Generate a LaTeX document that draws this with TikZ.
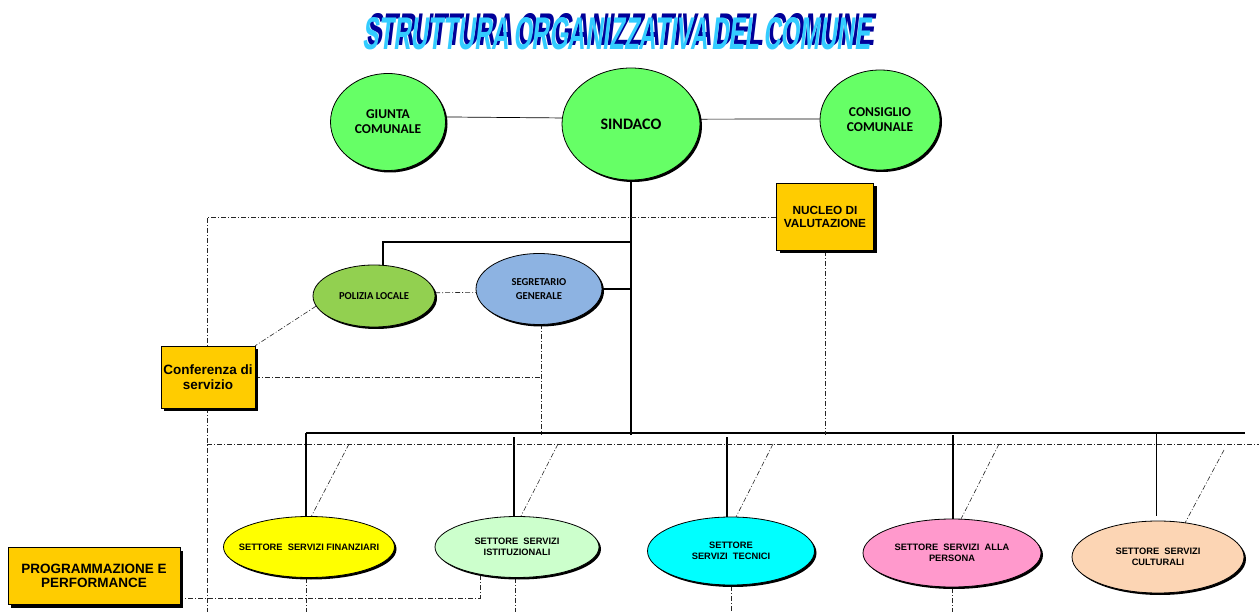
\documentclass[tikz,border=0pt]{standalone}
\usepackage{fontspec}
\setmainfont{Liberation Sans}
\newfontfamily\calib{Carlito}
\usetikzlibrary{shapes.geometric,shadows,backgrounds}
\definecolor{topgreen}{HTML}{66FF66}
\definecolor{polgreen}{HTML}{92D050}
\definecolor{segblue}{HTML}{8DB3E2}
\definecolor{gold}{HTML}{FFCC00}
\definecolor{finyel}{HTML}{FFFF00}
\definecolor{istgreen}{HTML}{CCFFCC}
\definecolor{teccyan}{HTML}{00FFFF}
\definecolor{perpink}{HTML}{FF99CC}
\definecolor{culpeach}{HTML}{FCD5B4}
\definecolor{ttlblue}{HTML}{33CCFF}
\definecolor{ttlnavy}{HTML}{000099}
\newcommand\ttltext{\resizebox{508pt}{32pt}{\bfseries STRUTTURA\,ORGANIZZATIVA\,DEL\,COMUNE}}
\begin{document}
\begin{tikzpicture}[x=1pt,y=-1pt,
  oval/.style={ellipse,draw=black,line width=0.8pt,inner xsep=-15pt,inner ysep=0pt,align=center,
    drop shadow={opacity=1,shadow xshift=2pt,shadow yshift=-2pt,fill=black}},
  gbox/.style={rectangle,draw=black,line width=0.6pt,fill=gold,inner sep=0pt,align=center,
    drop shadow={opacity=1,shadow xshift=3pt,shadow yshift=-3pt,fill=black}},
  thickline/.style={line width=2pt,black},
  thinline/.style={line width=0.7pt,black},
  dd/.style={line width=0.6pt,black!85,dash pattern=on 5pt off 2pt on 1pt off 2pt},
  calfont/.style={font=\calib\bfseries\fontsize{13.5}{15}\selectfont},
  setfont/.style={font=\bfseries\fontsize{9.3}{11}\selectfont}
]
\useasboundingbox (0,0) rectangle (1259,612);

% title: dark extrusion behind, light blue face
\node[anchor=south west,inner sep=0pt,xslant=0.12,text=ttlnavy] (titleshadow) at (366,46) {\ttltext};
\node[anchor=south west,inner sep=0pt,xslant=0.12,text=ttlblue] (title) at (362,50) {\ttltext};

% top circles
\node[oval,fill=topgreen,minimum width=115pt,minimum height=97pt,calfont] (giunta) at (388,122) {GIUNTA\\COMUNALE};
\node[oval,fill=topgreen,minimum width=138pt,minimum height=112pt,font=\calib\bfseries\fontsize{16}{18}\selectfont] (sindaco) at (631,124) {SINDACO};
\node[oval,fill=topgreen,minimum width=120pt,minimum height=100pt,calfont] (consiglio) at (880,120) {CONSIGLIO\\COMUNALE};

% boxes
\node[gbox,minimum width=97pt,minimum height=67pt,font=\bfseries\fontsize{11.8}{13.3}\selectfont] (nucleo) at (825,217) {NUCLEO DI\\VALUTAZIONE};
\node[gbox,minimum width=94pt,minimum height=62pt,font=\bfseries\fontsize{13.5}{14.5}\selectfont] (conf) at (208,377) {Conferenza di\\servizio};
\node[gbox,minimum width=172pt,minimum height=57pt,font=\bfseries\fontsize{13.5}{14.5}\selectfont] (prog) at (94,576) {PROGRAMMAZIONE E\\PERFORMANCE};

% middle ovals
\node[oval,fill=polgreen,minimum width=122pt,minimum height=62pt,font=\calib\bfseries\fontsize{10.6}{13.5}\selectfont] (polizia) at (374,296) {POLIZIA LOCALE};
\node[oval,fill=segblue,minimum width=126pt,minimum height=71pt,font=\calib\bfseries\fontsize{10.6}{13.7}\selectfont] (segretario) at (539,289) {SEGRETARIO\\GENERALE};

% sectors
\node[oval,fill=finyel,minimum width=171pt,minimum height=61pt,setfont] (fin) at (309,547) {SETTORE\ \ SERVIZI FINANZIARI};
\node[oval,fill=istgreen,minimum width=164pt,minimum height=61pt,setfont] (ist) at (517,547) {SETTORE\ \ SERVIZI\\ISTITUZIONALI};
\node[oval,fill=teccyan,minimum width=167pt,minimum height=68pt,setfont] (tec) at (731,551) {SETTORE\\SERVIZI\ \ TECNICI};
\node[oval,fill=perpink,minimum width=178pt,minimum height=68pt,setfont] (per) at (952,553) {SETTORE\ \ SERVIZI\ \ ALLA\\PERSONA};
\node[oval,fill=culpeach,minimum width=172pt,minimum height=72pt,setfont] (cul) at (1158,557) {SETTORE\ \ SERVIZI\\CULTURALI};

% coordinates
\coordinate (hub) at (631,435);
\coordinate (mainL) at (306,433);
\coordinate (mainR) at (1245,433);
\coordinate (ddTL) at (207,217);
\coordinate (ddBot) at (207,612);
\coordinate (ddL) at (207,444);
\coordinate (ddR) at (1259,444);

\begin{pgfonlayer}{background}
% solid connectors
\draw[thinline] (giunta.5) -- (sindaco.175);
\draw[thinline] (sindaco.4) -- (consiglio.179);
\draw[thickline] (sindaco.south) -- (hub);
\draw[thickline] (mainL |- 0,433) -- (mainR);
\draw[thickline] (sindaco.south |- 0,242) -- (383,242) -- (383,266);
\draw[thickline] (segretario.east) -- (segretario.east -| sindaco.south);
\draw[thickline] (mainL) -- (306,519);
\draw[thickline] (514,437) -- (514,518);
\draw[thickline] (727,437) -- (727,518);
\draw[thickline] (953,435) -- (953,520);
\draw[thinline] (1156,433) -- (1156,516);

% dash-dot connectors
\draw[dd] (nucleo.west) -- (ddTL) -- (ddBot);
\draw[dd] (nucleo.south) -- (nucleo.south |- hub);
\draw[dd] (polizia.3) -- (segretario.183);
\draw[dd] (polizia.190) -- (conf.north east);
\draw[dd] (conf.east) -- (541,377);
\draw[dd] (541,324) -- (541,435);
\draw[dd] (ddL) -- (ddR);
\draw[dd] (349,444) -- (311,517);
\draw[dd] (558,444) -- (520,518);
\draw[dd] (773,444) -- (735,519);
\draw[dd] (999,444) -- (960,521);
\draw[dd] (1224,450) -- (1185,523);
\draw[dd] (306,578) -- (306,612);
\draw[dd] (515,578) -- (515,612);
\draw[dd] (731,586) -- (731,612);
\draw[dd] (952,588) -- (952,612);
\draw[dd] (480,575) -- (480,598) -- (prog.east |- 0,598);
\end{pgfonlayer}
\end{tikzpicture}
\end{document}
